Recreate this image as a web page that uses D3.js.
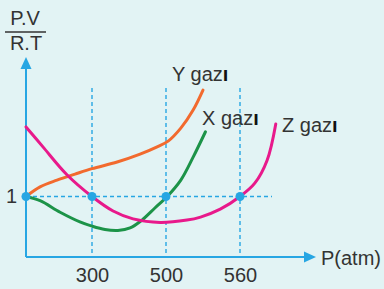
<!DOCTYPE html>
<html>
<head>
<meta charset="utf-8">
<script src="https://cdn.jsdelivr.net/npm/d3@7"></script>
<style>
  html, body { margin: 0; padding: 0; background: #e2f3f4; }
  svg { display: block; font-family: "Liberation Sans", Arial, sans-serif; }
</style>
</head>
<body>
<div id="chart"></div>
<script>
// pressure ticks (atm) shown on the x axis
const pressureTicks = [300, 500, 560];
// points where the curves meet PV/RT = 1
const unityPoints = [0, 300, 500, 560];

// Y gazı (orange)
const gasYP = [0, 64, 141, 223, 300, 368, 430, 476, 502, 512, 522, 530];
const gasYZ = [1.0, 1.16, 1.27, 1.37, 1.46, 1.57, 1.7, 1.82, 1.92, 2.13, 2.43, 2.76];
// X gazı (green)
const gasXP = [0, 64, 155, 245, 300, 335, 370, 403, 435, 470, 501, 512, 522, 532];
const gasXZ = [1.0, 0.93, 0.74, 0.58, 0.51, 0.455, 0.44, 0.48, 0.61, 0.81, 1.0, 1.27, 1.65, 2.07];
// Z gazı (magenta)
const gasZP = [0, 77, 186, 300, 357, 411, 484, 517, 528, 544, 560, 572, 582, 589];
const gasZZ = [2.15, 1.82, 1.36, 1.0, 0.76, 0.63, 0.57, 0.61, 0.66, 0.79, 1.0, 1.22, 1.6, 2.2];

const W = 384, H = 289;
const axisColor = '#27a6e3';
const textColor = '#333';
const font = '"Liberation Sans", Arial, sans-serif';

const svg = d3.select('#chart').append('svg')
  .attr('width', W)
  .attr('height', H);

// schematic (non-uniform) pressure axis, as in the drawing
const x = d3.scaleLinear().domain([0, 300, 500, 560]).range([26, 92, 166, 240]);
const y = d3.scaleLinear().domain([0, 1]).range([257, 196.5]);

// dashed guide lines
const guides = svg.append('g')
  .attr('stroke', axisColor)
  .attr('stroke-width', 1.4)
  .attr('stroke-dasharray', '4,3');

guides.selectAll('line.v')
  .data(pressureTicks)
  .enter().append('line')
  .attr('class', 'v')
  .attr('x1', d => x(d)).attr('x2', d => x(d))
  .attr('y1', 88).attr('y2', y(0));

guides.append('line')
  .attr('x1', x(0)).attr('x2', 272)
  .attr('y1', y(1)).attr('y2', y(1));

// axis lines with arrows
svg.append('line')
  .attr('x1', x(0)).attr('x2', x(0))
  .attr('y1', y(0)).attr('y2', 66)
  .attr('stroke', axisColor).attr('stroke-width', 2);
svg.append('path')
  .attr('d', `M${x(0)},57 L${x(0) - 5.5},69 L${x(0) + 5.5},69 Z`)
  .attr('fill', axisColor);

svg.append('line')
  .attr('x1', x(0)).attr('x2', 306)
  .attr('y1', y(0)).attr('y2', y(0))
  .attr('stroke', axisColor).attr('stroke-width', 2);
svg.append('path')
  .attr('d', `M316,${y(0)} L304,${y(0) - 5.5} L304,${y(0) + 5.5} Z`)
  .attr('fill', axisColor);

// tick labels
const xAxis = svg.append('g')
  .attr('transform', 'translate(0,' + y(0) + ')')
  .call(d3.axisBottom(x).tickValues(pressureTicks).tickSize(0).tickPadding(11).tickFormat(d3.format('d')));
xAxis.select('.domain').remove();
xAxis.selectAll('text')
  .attr('fill', textColor)
  .style('font-size', '20px')
  .style('font-family', font);

const yAxis = svg.append('g')
  .attr('transform', 'translate(' + x(0) + ',0)')
  .call(d3.axisLeft(y).tickValues([1]).tickSize(0).tickPadding(9).tickFormat(d3.format('d')));
yAxis.select('.domain').remove();
yAxis.selectAll('text')
  .attr('fill', textColor)
  .style('font-size', '20px')
  .style('font-family', font);

// curves
const line = d3.line()
  .x(d => x(d[0]))
  .y(d => y(d[1]))
  .curve(d3.curveCatmullRom.alpha(0.5));

const curves = [
  { p: gasYP, z: gasYZ, color: '#f26a2e' },
  { p: gasXP, z: gasXZ, color: '#1c9348' },
  { p: gasZP, z: gasZZ, color: '#e8198b' },
];

svg.selectAll('path.curve')
  .data(curves)
  .enter().append('path')
  .attr('class', 'curve')
  .attr('d', c => line(d3.zip(c.p, c.z)))
  .attr('fill', 'none')
  .attr('stroke', c => c.color)
  .attr('stroke-width', 3)
  .attr('stroke-linecap', 'round');

// points on PV/RT = 1
svg.selectAll('circle')
  .data(unityPoints)
  .enter().append('circle')
  .attr('cx', d => x(d))
  .attr('cy', y(1))
  .attr('r', 4.5)
  .attr('fill', axisColor);

// curve labels
const labels = [
  { name: 'Y gaz', x: 172, y: 81 },
  { name: 'X gaz', x: 202, y: 125 },
  { name: 'Z gaz', x: 282, y: 132 },
];
const lab = svg.selectAll('text.lab')
  .data(labels)
  .enter().append('text')
  .attr('class', 'lab')
  .attr('x', d => d.x)
  .attr('y', d => d.y)
  .attr('fill', textColor)
  .style('font-size', '20px');
lab.append('tspan').text(d => d.name);
lab.append('tspan').attr('font-weight', 'bold').attr('fill', '#111').text('ı');

// axis titles
svg.append('text')
  .attr('x', 321).attr('y', 265)
  .attr('fill', textColor)
  .style('font-size', '20px')
  .text('P(atm)');

svg.append('text')
  .attr('x', 25).attr('y', 25)
  .attr('text-anchor', 'middle')
  .attr('fill', textColor)
  .style('font-size', '20px')
  .text('P.V');
svg.append('line')
  .attr('x1', 5).attr('x2', 46)
  .attr('y1', 32).attr('y2', 32)
  .attr('stroke', textColor).attr('stroke-width', 1.5);
svg.append('text')
  .attr('x', 26).attr('y', 50)
  .attr('text-anchor', 'middle')
  .attr('fill', textColor)
  .style('font-size', '20px')
  .text('R.T');
</script>
</body>
</html>
